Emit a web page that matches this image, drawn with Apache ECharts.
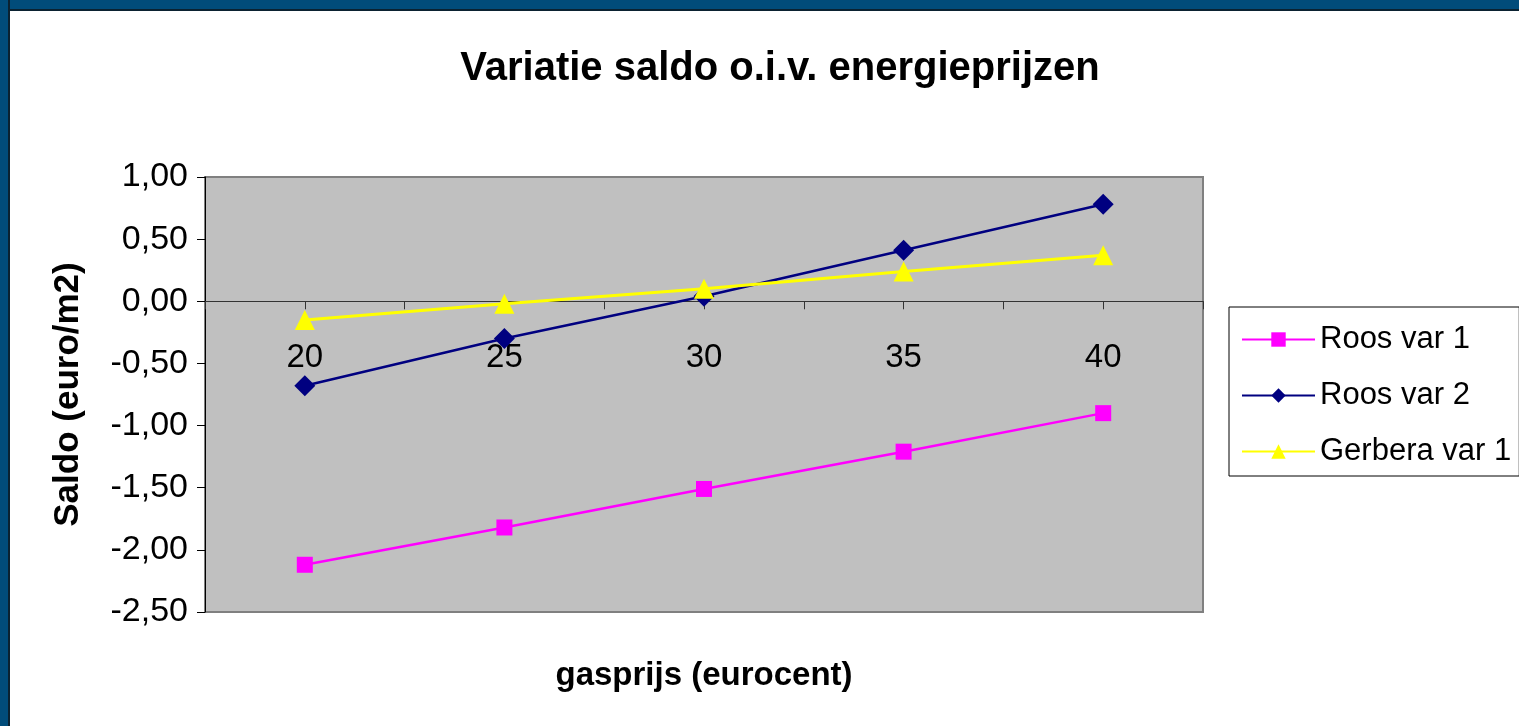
<!DOCTYPE html>
<html>
<head>
<meta charset="utf-8">
<script src="https://cdn.jsdelivr.net/npm/echarts@6/dist/echarts.min.js"></script>
<style>
  html, body { margin: 0; padding: 0; background: #fff; overflow: hidden; }
  #chart { position: absolute; left: 0; top: 0; width: 1519px; height: 726px; }
  .edge { position: absolute; background: #014C7A; z-index: 5; }
  #edgeTop { left: 0; top: 0; width: 1519px; height: 9px; border-bottom: 2px solid #0B2231; }
  #edgeLeft { left: 0; top: 0; width: 8px; height: 726px; border-right: 2px solid #0B2231; }
</style>
</head>
<body>
<div id="chart"></div>
<div class="edge" id="edgeTop"></div>
<div class="edge" id="edgeLeft"></div>
<script>
// gasprijs (eurocent)
const gasPrices = [20, 25, 30, 35, 40];
const roosVar1 = [-2.12, -1.82, -1.51, -1.21, -0.90];
const roosVar2 = [-0.68, -0.30, 0.04, 0.41, 0.78];
const gerberaVar1 = [-0.15, -0.02, 0.10, 0.24, 0.37];
const seriesNames = ['Roos var 1', 'Roos var 2', 'Gerbera var 1'];

const yMin = -2.5, yMax = 1;
const gridTop = 177, gridHeight = 435;

const chart = echarts.init(document.getElementById('chart'));
const font = 'Arial, "Liberation Sans", sans-serif';

function pairs(vals) {
  return gasPrices.map((g, i) => [g, vals[i]]);
}

// x axis sits on the zero line, labels hang just under it
const zeroOffset = -gridHeight * (0 - yMin) / (yMax - yMin);

const option = {
  backgroundColor: '#fff',
  animation: false,
  textStyle: { fontFamily: font, color: '#000' },
  title: {
    text: 'Variatie saldo o.i.v. energieprijzen',
    left: 775,
    textAlign: 'center',
    top: 44,
    textStyle: { fontSize: 40, fontWeight: 'bold', color: '#000', fontFamily: font }
  },
  grid: {
    left: 205, top: gridTop, width: 998, height: gridHeight,
    outerBoundsMode: 'none',
    containLabel: false,
    show: true, backgroundColor: '#C0C0C0', borderColor: '#808080', borderWidth: 2
  },
  legend: {
    orient: 'vertical',
    left: 1229, top: 307,
    padding: [17, 8, 9, 12],
    itemWidth: 73, itemHeight: 18, itemGap: 25,
    borderColor: '#000', borderWidth: 1,
    textStyle: { fontSize: 31, color: '#000', fontFamily: font },
    data: seriesNames
  },
  xAxis: {
    type: 'value',
    min: 17.5, max: 42.5, interval: 2.5,
    offset: zeroOffset,
    name: 'gasprijs (eurocent)',
    nameLocation: 'middle',
    nameGap: 358,
    nameTextStyle: { fontSize: 33, fontWeight: 'bold', color: '#000', fontFamily: font },
    axisLine: { onZero: false, lineStyle: { color: '#333', width: 1 } },
    axisTick: { show: true, length: 8, lineStyle: { color: '#333' } },
    axisLabel: {
      margin: 40, fontSize: 33, color: '#000', fontFamily: font,
      formatter: v => (v % 5 === 0 && v >= 20 && v <= 40) ? String(v) : ''
    },
    splitLine: { show: false }
  },
  yAxis: {
    type: 'value',
    min: yMin, max: yMax, interval: 0.5,
    name: 'Saldo (euro/m2)',
    nameLocation: 'middle',
    nameGap: 119,
    nameTextStyle: { fontSize: 35, fontWeight: 'bold', color: '#000', fontFamily: font },
    axisLine: { show: true, onZero: false, lineStyle: { color: '#000', width: 1 } },
    axisTick: { show: true, length: 8, lineStyle: { color: '#000' } },
    axisLabel: {
      margin: 17, fontSize: 34, color: '#000', fontFamily: font,
      formatter: v => v.toFixed(2).replace('.', ',')
    },
    splitLine: { show: false }
  },
  series: [
    {
      name: seriesNames[0], type: 'line', data: pairs(roosVar1),
      symbol: 'rect', symbolSize: 16,
      itemStyle: { color: '#FF00FF' }, lineStyle: { color: '#FF00FF', width: 2.5 }
    },
    {
      name: seriesNames[1], type: 'line', data: pairs(roosVar2),
      symbol: 'diamond', symbolSize: 21,
      itemStyle: { color: '#000080' }, lineStyle: { color: '#000080', width: 2.5 }
    },
    {
      name: seriesNames[2], type: 'line', data: pairs(gerberaVar1),
      symbol: 'triangle', symbolSize: 20,
      itemStyle: { color: '#FFFF00' }, lineStyle: { color: '#FFFF00', width: 3 }
    }
  ]
};

chart.setOption(option);
</script>
</body>
</html>
